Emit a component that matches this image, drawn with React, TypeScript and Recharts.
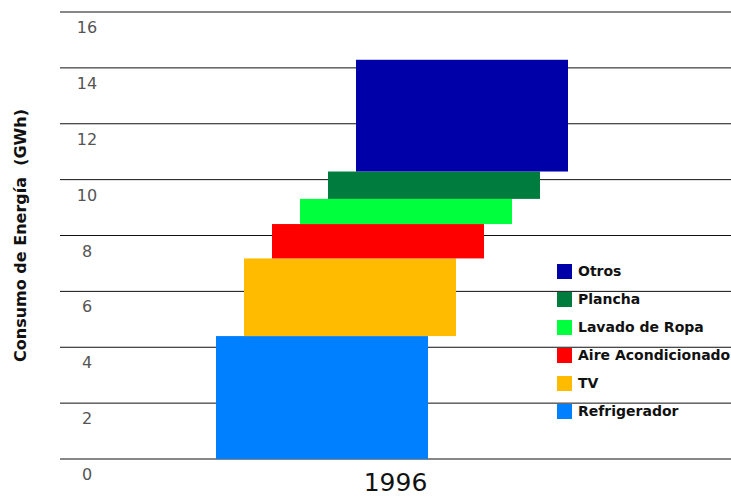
import { BarChart, Bar, XAxis, YAxis, CartesianGrid, Legend } from "recharts";

const years = ["1996"];
const refrigerador = [4.4];
const tv = [2.78];
const aire = [1.23];
const lavado = [0.9];
const plancha = [0.98];
const otros = [4.0];

const seriesNames = ["Refrigerador", "TV", "Aire Acondicionado", "Lavado de Ropa", "Plancha", "Otros"];
const seriesColors = ["#0080FF", "#FFBB00", "#FF0000", "#00FF3C", "#007D3E", "#0000A8"];
const yTicks = [0, 2, 4, 6, 8, 10, 12, 14, 16];

const seriesValues = [refrigerador, tv, aire, lavado, plancha, otros];

const data = years.map((year, i) => {
  const row: any = { year };
  seriesNames.forEach((name, s) => {
    row[name] = seriesValues[s][i];
  });
  return row;
});

// each stacked segment is pushed to the right a bit, like the old 3D look
const STEP = 28;
const makeShape = (idx: number) => (props: any) => {
  const { x, y, width, height, fill } = props;
  const dx = (idx - 2.5) * STEP - 4;
  return <rect x={x + dx} y={y} width={width} height={height} fill={fill} />;
};

const YTick = (props: any) => {
  const { x, y, payload } = props;
  return (
    <text x={x + 27} y={y + 21} textAnchor="middle" fontSize={16} fill="#555" fontFamily="DejaVu Sans">
      {payload.value}
    </text>
  );
};

const XTick = (props: any) => {
  const { x, y, payload } = props;
  return (
    <text x={x} y={y + 32} textAnchor="middle" fontSize={25} fill="#111" fontFamily="DejaVu Sans">
      {payload.value}
    </text>
  );
};

const YLabel = (props: any) => {
  const vb = props.viewBox;
  const cx = vb.x + 20;
  const cy = vb.y + vb.height / 2;
  return (
    <text
      x={cx}
      y={cy}
      transform={`rotate(-90 ${cx} ${cy})`}
      textAnchor="middle"
      dominantBaseline="central"
      fontSize={16}
      fontWeight="bold"
      fill="#111"
      fontFamily="DejaVu Sans"
      style={{ whiteSpace: "pre" }}
    >
      {"Consumo de Energía  (GWh)"}
    </text>
  );
};

// legend lists the top segment first
const LegendBox = () => {
  const items = seriesNames.map((name, i) => ({ name, color: seriesColors[i] })).reverse();
  return (
    <div style={{ fontFamily: "DejaVu Sans", fontWeight: "bold", fontSize: 14, color: "#111" }}>
      {items.map((it) => (
        <div key={it.name} style={{ display: "flex", alignItems: "center", height: 28 }}>
          <span style={{ width: 15, height: 15, background: it.color, display: "inline-block", marginRight: 6 }} />
          <span style={{ whiteSpace: "nowrap" }}>{it.name}</span>
        </div>
      ))}
    </div>
  );
};

export default function App() {
  return (
    <div style={{ position: "absolute", left: 0, top: 0, background: "#fff" }}>
      <BarChart width={731} height={497} data={data} margin={{ top: 12, right: 0, bottom: 0, left: 0 }}>
        <CartesianGrid vertical={false} stroke="#111" />
        <XAxis dataKey="year" height={38} axisLine={false} tickLine={false} tickSize={0} tickMargin={0} tick={<XTick />} />
        <YAxis
          width={60}
          domain={[0, 16]}
          ticks={yTicks}
          axisLine={false}
          tickLine={false}
          tickSize={0}
          tickMargin={0}
          tick={<YTick />}
          label={<YLabel />}
        />
        <Legend
          layout="vertical"
          align="center"
          verticalAlign="middle"
          content={<LegendBox />}
          wrapperStyle={{ position: "absolute", left: 557, top: 257, width: 174 }}
        />
        {seriesNames.map((name, i) => (
          <Bar
            key={name}
            dataKey={name}
            stackId="a"
            fill={seriesColors[i]}
            barSize={212}
            shape={makeShape(i)}
            isAnimationActive={false}
          />
        ))}
      </BarChart>
    </div>
  );
}
